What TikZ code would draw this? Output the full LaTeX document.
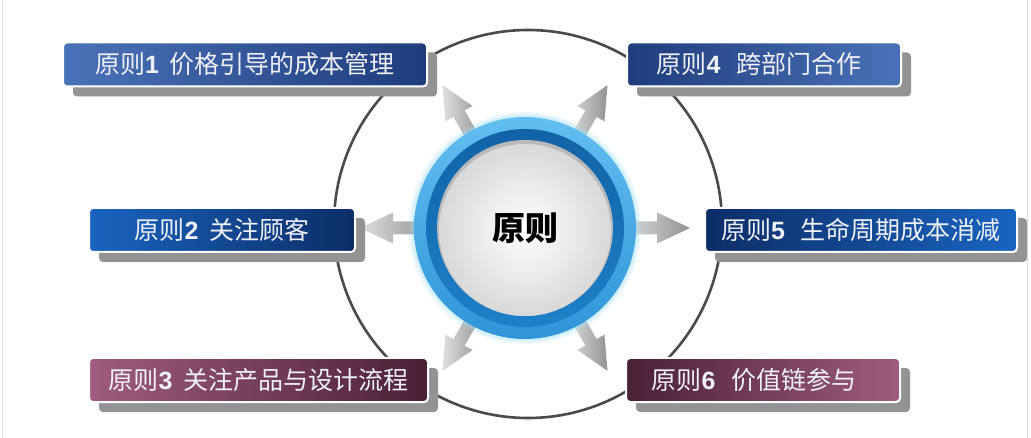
\documentclass[tikz,border=0pt]{standalone}
\usepackage{fontspec}
\newfontfamily\cjk{Noto Sans CJK SC}
\newfontfamily\dig{Liberation Sans}
\usetikzlibrary{shadows}
\definecolor{txt}{HTML}{EEF0FA}
\definecolor{shgray}{HTML}{939393}
\definecolor{ringline}{HTML}{4A4A4A}
\definecolor{bAl}{HTML}{4A72B8}
\definecolor{bAd}{HTML}{1F3C7C}
\definecolor{bBl}{HTML}{1A64C0}
\definecolor{bBd}{HTML}{0C2D66}
\definecolor{mL}{HTML}{A05C7E}
\definecolor{mD}{HTML}{4A2035}
\definecolor{ringA}{HTML}{62BEF0}
\definecolor{ringB}{HTML}{2F95D8}
\definecolor{ringC}{HTML}{1E80C8}
\definecolor{ringD}{HTML}{1263A6}
\tikzset{
  pbox/.style={rounded corners=4pt, draw=white, line width=2pt,
    minimum height=44pt, inner sep=0pt, text=txt,
    font=\cjk\fontsize{25}{25}\selectfont,
    drop shadow={shadow xshift=10pt, shadow yshift=-10pt, fill=shgray, opacity=1}},
  outerring/.style={draw=ringline, line width=2.6pt},
  arrowshade/.style={left color=gray!25, right color=gray!85},
}
\newcommand\dg[1]{{\dig\bfseries #1}}
\newcommand\parrow[1]{%
  \begin{scope}[shift={(c)}, rotate=#1]
    \shade[arrowshade] (96,-6.5) -- (132,-6.5) -- (132,-15.5) -- (165,0)
      -- (132,15.5) -- (132,6.5) -- (96,6.5) -- cycle;
  \end{scope}}
\begin{document}
\begin{tikzpicture}[x=1pt,y=-1pt]
  \useasboundingbox (0,0) rectangle (1031,438);
  \fill[white] (0,0) rectangle (1031,438);
  \draw[gray!25, line width=1pt] (2,0) -- (2,438);
  \draw[gray!25, line width=1pt] (1027,0) -- (1027,438);
  \coordinate (c) at (525,228);
  % big outer circle
  \draw[outerring] (528,224) circle (194);
  % arrows
  \parrow{0}
  \parrow{60}
  \parrow{120}
  \parrow{180}
  \parrow{240}
  \parrow{300}
  % boxes
  \node[pbox, minimum width=364pt, left color=bAl, right color=bAd] (b1) at (245,64.5)
    {原则\dg{1}\hspace{11pt}价格引导的成本管理};
  \node[pbox, minimum width=266pt, left color=bBl, right color=bBd] (b2) at (222,230)
    {原则\dg{2}\hspace{11pt}关注顾客};
  \node[pbox, minimum width=339pt, left color=mL, right color=mD] (b3) at (258.5,380)
    {原则\dg{3}\hspace{11pt}关注产品与设计流程};
  \node[pbox, minimum width=274pt, left color=bAd, right color=bAl] (b4) at (764,64.5)
    {原则\dg{4}\hspace{16pt}跨部门合作\hspace*{10pt}};
  \node[pbox, minimum width=312pt, left color=bBd, right color=bBl] (b5) at (861,230)
    {原则\dg{5}\hspace{16pt}生命周期成本消减};
  \node[pbox, minimum width=274pt, left color=mD, right color=mL] (b6) at (763,380)
    {原则\dg{6}\hspace{16pt}价值链参与\hspace*{18pt}};
  % centre disc
  \fill[cyan!40, opacity=.2] (c) circle (116);
  \fill[cyan!40, opacity=.3] (c) circle (113.5);
  \shade[top color=ringA, bottom color=ringB] (c) circle (111);
  \shade[top color=ringD, bottom color=ringC] (c) circle (99);
  \fill[gray!55] (c) circle (88);
  \shade[inner color=white, outer color=gray!30] (c) ++(0,2) circle (86);
  \node[font=\cjk\bfseries\fontsize{33}{33}\selectfont, text=black] (lbl) at (c) {原则};
\end{tikzpicture}
\end{document}
